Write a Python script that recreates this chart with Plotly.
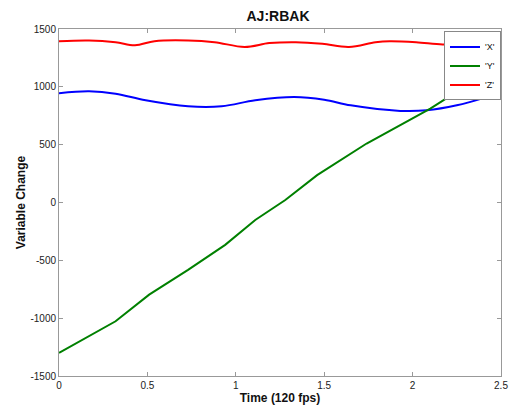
import plotly.graph_objects as go

# Data
x_time = [0, 0.17, 0.32, 0.49, 0.73, 0.92, 1.11, 1.33, 1.50, 1.65, 1.93, 2.08, 2.25, 2.41]
x_vals = [945, 961, 941, 884, 832, 832, 884, 912, 889, 840, 792, 797, 840, 907]

y_time = [0, 0.32, 0.51, 0.73, 0.94, 1.11, 1.28, 1.46, 1.74, 1.93, 2.10, 2.38, 2.41]
y_vals = [-1300, -1027, -797, -582, -366, -151, 22, 237, 510, 668, 812, 1084, 1110]

z_time = [0, 0.17, 0.32, 0.43, 0.54, 0.73, 0.88, 1.05, 1.19, 1.34, 1.49, 1.64, 1.79, 1.87, 2.02, 2.17, 2.30, 2.41]
z_vals = [1395, 1401, 1386, 1360, 1395, 1401, 1386, 1345, 1378, 1386, 1372, 1345, 1386, 1395, 1386, 1366, 1370, 1365]

x_ticks = [0, 0.5, 1, 1.5, 2, 2.5]
x_ticklabels = ["0", "0.5", "1", "1.5", "2", "2.5"]
y_ticks = [-1500, -1000, -500, 0, 500, 1000, 1500]
y_ticklabels = ["-1500", "-1000", "-500", "0", "500", "1000", "1500"]

series = [
    ("'X'", x_time, x_vals, "#0000ff", "spline"),
    ("'Y'", y_time, y_vals, "#008000", "linear"),
    ("'Z'", z_time, z_vals, "#ff0000", "spline"),
]

fig = go.Figure()
for name, t, v, c, shp in series:
    fig.add_trace(go.Scatter(x=t, y=v, mode="lines", name=name,
                             line=dict(color=c, width=2, shape=shp)))

W, H = 511, 416
font_family = "Liberation Sans, Arial, sans-serif"
fig.update_layout(
    width=W, height=H,
    margin=dict(l=59, r=10, t=29, b=40, autoexpand=False),
    paper_bgcolor="white", plot_bgcolor="white",
    font=dict(family=font_family, color="#222222", size=10),
    title=dict(text="<b>AJ:RBAK</b>", x=278 / W, xanchor="center", y=1 - 16.5 / H, yanchor="middle",
               font=dict(size=14, color="#111111")),
    showlegend=True,
    legend=dict(x=1.0, xanchor="right", y=0.993, yanchor="top",
                bgcolor="white", bordercolor="#888888", borderwidth=1,
                font=dict(size=9, color="#111111"), itemwidth=30,
                tracegroupgap=0),
)
fig.update_xaxes(range=[0, 2.5], tickvals=x_ticks, ticktext=x_ticklabels, automargin=False,
                 showgrid=False, zeroline=False, showline=True, linecolor="#999999", linewidth=1,
                 mirror="ticks", ticks="inside", ticklen=4, tickcolor="#999999",
                 title=dict(text="<b>Time (120 fps)</b>", font=dict(size=12, color="#111111"), standoff=2))
fig.update_yaxes(range=[-1500, 1500], tickvals=y_ticks, ticktext=y_ticklabels, automargin=False,
                 showgrid=False, zeroline=False, showline=True, linecolor="#999999", linewidth=1,
                 mirror="ticks", ticks="inside", ticklen=4, tickcolor="#999999",
                 title=dict(text="<b>Variable Change</b>", font=dict(size=12, color="#111111"), standoff=2))

# Remove the default page margin so the figure fills the window exactly.
fig.write_html("out.html", config={"displayModeBar": False},
               post_script="document.body.style.margin='0';document.body.style.overflow='hidden';")
